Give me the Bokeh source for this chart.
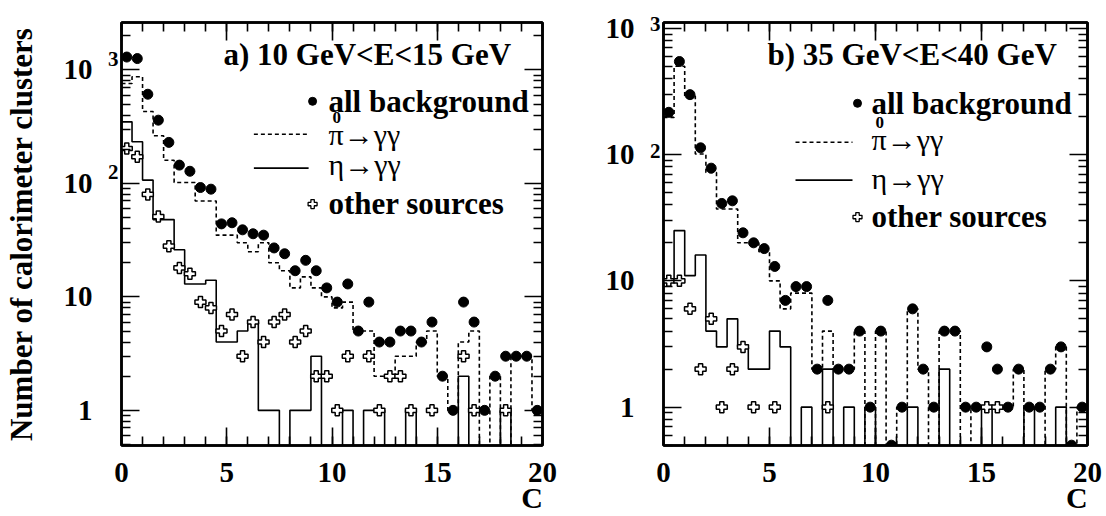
import numpy as np
from bokeh.plotting import figure
from bokeh.models import (Range1d, LinearAxis, LogAxis, SingleIntervalTicker,
                          FixedTicker, Label)
from bokeh.layouts import row
from bokeh.embed import file_html
from bokeh.resources import INLINE

# ---------------- data (40 bins of width 0.5 in C) ----------------
c_edges = np.linspace(0.0, 20.0, 41)

a_all = [1300, 1260, 611, 361, 230, 145, 128, 92, 89, 44,
         45, 39, 36, 35, 27, 24, 17, 21, 17, 12,
         9, 13, 5, 9, 4, 4, 5, 5, 4, 6,
         2, 1, 9, 6, 1, 2, 3, 3, 3, 1]
a_pi0 = [760, 870, 430, 263, 160, 102, 102, 70, 70, 35,
         35, 30, 25, 30, 20, 17, 12, 15, 12, 10,
         8, 9, 5, 5, 2, 2, 3, 3, 4, 5,
         2, 1, 4, 5, 0, 2, 0, 3, 3, 1]
a_eta = [349, 233, 107, 48, 48, 26, 13, 13, 14, 4,
         4, 5, 6, 1, 1, 0, 1, 1, 3, 0,
         0, 1, 0, 1, 1, 0, 0, 1, 0, 0,
         0, 0, 2, 0, 0, 0, 1, 0, 0, 0]
a_oth = [203, 172, 80, 51, 28, 18, 16, 9, 8, 5,
         7, 3, 6, 4, 6, 7, 4, 5, 2, 2,
         1, 3, 0, 3, 1, 2, 2, 1, 0, 1,
         0, 0, 3, 1, 0, 0, 1, 0, 0, 0]

b_all = [216, 545, 298, 113, 78, 41, 43, 24, 20, 18,
         13, 7, 9, 9, 2, 7, 2, 2, 4, 1,
         4, 0.5, 1, 6, 2, 1, 4, 4, 1, 1,
         3, 2, 1, 2, 1, 1, 2, 3, 0.5, 1]
b_pi0 = [197, 500, 290, 101, 72, 37, 37, 20, 20, 17,
         10, 6, 8, 8, 2, 4, 2, 2, 4, 0,
         4, 0, 1, 6, 2, 0, 4, 4, 0, 1,
         1, 1, 1, 2, 0, 0, 2, 3, 0, 1]
b_eta = [10, 25, 11, 16, 4, 3, 5, 3, 2, 2,
         4, 3, 0, 1, 0, 2, 0, 1, 0, 1,
         0, 0, 0, 1, 0, 0, 2, 0, 0, 0,
         1, 0, 0, 0, 1, 0, 0, 1, 0, 0]
b_oth = [10, 10, 6, 2, 5, 1, 2, 3, 1, 0,
         1, 0, 0, 0, 0, 1, 0, 0, 0, 0,
         0, 0, 0, 0, 0, 0, 0, 0, 0, 0,
         1, 1, 0, 0, 0, 0, 0, 0, 0, 0]

x_tick_labels = {0: "0", 5: "5", 10: "10", 15: "15", 20: "20"}
y_tick_labels = {1: "1", 10: "10", 100: "10", 1000: "10"}
y_tick_sups = {100: "2", 1000: "3"}
x_title = "C"
y_title = "Number of calorimeter clusters"
legend_texts = ["all background", "\u03c0\u2192\u03b3\u03b3",
                "\u03b7\u2192\u03b3\u03b3", "other sources"]

FONT = "Liberation Serif"
FH = 424  # frame height in px


def panel(all_bg, pi0, eta, oth, y_lo, y_hi, width, b_left, b_right, title,
          ylabel, lay):
    fw = width - b_left - b_right
    D = np.log10(y_hi / y_lo)
    f = 10 ** (-lay["sup_dy"] * D / FH)
    p = figure(width=width, height=516, x_range=Range1d(0, 20),
               y_range=Range1d(y_lo, y_hi), y_axis_type="log",
               output_backend="svg", toolbar_location=None,
               min_border_left=b_left, min_border_right=b_right,
               min_border_top=22, min_border_bottom=70)
    p.extra_y_ranges = {"sup": Range1d(y_lo * f, y_hi * f)}
    p.grid.visible = False
    p.outline_line_color = "black"
    p.outline_line_width = 2.5
    p.background_fill_color = "white"
    p.border_fill_color = "white"

    decades = [1, 10, 100, 1000]
    minors = [m * d for d in [0.1, 1, 10, 100, 1000] for m in range(2, 10)]

    def ticks(ax, on):
        if on:
            ax.major_tick_in = 18
            ax.minor_tick_in = 9
            ax.major_tick_line_width = 1.6
            ax.minor_tick_line_width = 1.6
            ax.axis_line_width = 2.5
            ax.axis_line_color = "black"
        else:
            ax.major_tick_in = 0
            ax.minor_tick_in = 0
            ax.axis_line_color = None
            ax.major_tick_line_color = None
            ax.minor_tick_line_color = None
        ax.major_tick_out = 0
        ax.minor_tick_out = 0

    def labels(ax, size, standoff, overrides):
        ax.major_label_text_font = FONT
        ax.major_label_text_font_size = size
        ax.major_label_text_font_style = "bold"
        ax.major_label_text_color = "black"
        ax.major_label_standoff = standoff
        ax.major_label_overrides = overrides

    def nolabels(ax, vals):
        ax.major_label_text_font_size = "1px"
        ax.major_label_standoff = 0
        ax.major_label_overrides = {v: "" for v in vals}

    # bottom: ticks + numbers
    xa = p.xaxis[0]
    xa.ticker = SingleIntervalTicker(interval=5, num_minor_ticks=5)
    ticks(xa, True)
    labels(xa, "29px", 17, x_tick_labels)
    # bottom: axis title "C" placed at the right end
    xc = LinearAxis(ticker=FixedTicker(ticks=[19.5], minor_ticks=[]))
    ticks(xc, False)
    labels(xc, "30px", -4, {19.5: x_title})
    p.add_layout(xc, "below")

    # left: ticks only (innermost)
    ya = p.yaxis[0]
    ya.ticker = FixedTicker(ticks=decades, minor_ticks=minors)
    ticks(ya, True)
    nolabels(ya, decades)
    # left: exponents (raised through a shifted range)
    ys = LogAxis(y_range_name="sup",
                 ticker=FixedTicker(ticks=list(y_tick_sups), minor_ticks=[]))
    ticks(ys, False)
    labels(ys, "21px", 3, y_tick_sups)
    p.add_layout(ys, "left")
    # left: mantissas "10" / "1"
    yn = LogAxis(ticker=FixedTicker(ticks=decades, minor_ticks=[]))
    ticks(yn, False)
    labels(yn, "29px", lay["num_standoff"], y_tick_labels)
    if ylabel:
        yn.axis_label = ylabel
        yn.axis_label_text_font = FONT
        yn.axis_label_text_font_size = "31px"
        yn.axis_label_text_font_style = "bold"
        yn.axis_label_text_color = "black"
        yn.axis_label_standoff = 22
    p.add_layout(yn, "left")

    # mirrored ticks
    top = LinearAxis(ticker=SingleIntervalTicker(interval=5, num_minor_ticks=5))
    ticks(top, True)
    nolabels(top, [0, 5, 10, 15, 20])
    p.add_layout(top, "above")
    right = LogAxis(ticker=FixedTicker(ticks=decades, minor_ticks=minors))
    ticks(right, True)
    nolabels(right, decades)
    p.add_layout(right, "right")

    # histograms
    floor = y_lo * 0.1

    def stepv(v):
        v = np.asarray(v, dtype=float)
        v = np.where(v > 0, v, floor)
        return np.append(v, v[-1])
    p.step(x=c_edges, y=stepv(pi0), mode="after", line_color="black",
           line_width=1.6, line_dash="4 3")
    p.step(x=c_edges, y=stepv(eta), mode="after", line_color="black",
           line_width=1.6)

    centers = 0.5 * (c_edges[:-1] + c_edges[1:])
    o = np.asarray(oth, dtype=float)
    m = o > 0
    p.scatter(x=centers[m], y=o[m], marker="plus", size=11,
              fill_color="white", line_color="black", line_width=1.5)
    a = np.asarray(all_bg, dtype=float)
    m = a > 0
    p.scatter(x=centers[m], y=a[m], marker="circle", size=10,
              fill_color="black", line_color="black")

    # in-frame texts (frame pixel coords measured from the frame top-left)
    lo = np.log10(y_lo)

    def dx(fx):
        return 20.0 * fx / fw

    def dy(fy):
        return 10 ** (lo + (FH - fy) / FH * D)

    def lab(text, fx, fy, size="31px", style_="bold", align="left",
            base="alphabetic"):
        p.add_layout(Label(x=fx, y=FH - fy, x_units="screen", y_units="screen",
                           text=text, text_font=FONT, text_font_size=size,
                           text_font_style=style_, text_align=align,
                           text_baseline=base, text_color="black"))

    lab(title, lay["title_x"], lay["title_y"] - 11)
    tx = lay["text_x"]
    rows = lay["rows"]
    lab(legend_texts[0], tx, rows[0] - 8)
    lab(legend_texts[1], tx, rows[1] - 6, size="30px", style_="normal")
    lab("0", tx + 4, rows[1] - 23, size="17px", base="middle")
    lab(legend_texts[2], tx, rows[2] - 6, size="30px", style_="normal")
    lab(legend_texts[3], tx, rows[3] - 8)

    mx = lay["mark_x"]
    p.scatter(x=[dx(mx)], y=[dy(rows[0] - 9)], marker="circle", size=8,
              color="black")
    p.scatter(x=[dx(mx)], y=[dy(rows[3] - 8)], marker="plus", size=9,
              fill_color="white", line_color="black", line_width=1.3)
    l0, l1 = lay["line_x"]
    p.line(x=[dx(l0), dx(l1)], y=[dy(lay["dash_y"])] * 2, line_color="black",
           line_width=1.6, line_dash="4 3")
    p.line(x=[dx(l0), dx(l1)], y=[dy(lay["solid_y"])] * 2, line_color="black",
           line_width=1.6)
    return p


lay_a = dict(title_x=102, title_y=44, text_x=207, rows=[88, 119, 149, 190],
             mark_x=192, line_x=(133, 188), dash_y=112, solid_y=146,
             sup_dy=11, num_standoff=12)
lay_b = dict(title_x=104, title_y=44, text_x=208, rows=[90, 124, 163, 203],
             mark_x=194, line_x=(132, 189), dash_y=120, solid_y=158,
             sup_dy=4, num_standoff=12)

pa = panel(a_all, a_pi0, a_eta, a_oth, 0.49, 2620, 590, 119, 48,
           "a) 10 GeV<E<15 GeV", y_title, lay_a)
pb = panel(b_all, b_pi0, b_eta, b_oth, 0.497, 1110, 516, 73, 19,
           "b) 35 GeV<E<40 GeV", None, lay_b)

layout = row(pa, pb)
open("out.html", "w").write(file_html(layout, INLINE))
